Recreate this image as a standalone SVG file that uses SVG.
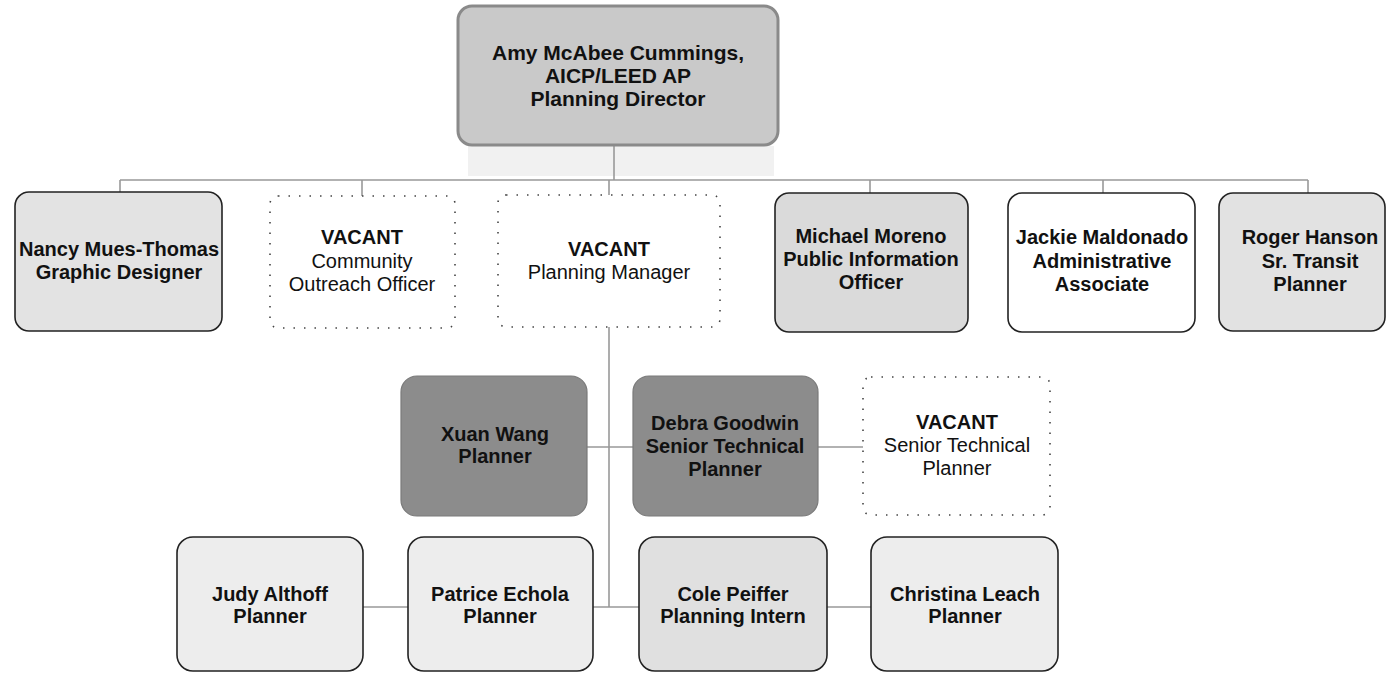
<svg xmlns="http://www.w3.org/2000/svg" width="1389" height="673" viewBox="0 0 1389 673">
<style>
.t{font-family:"Liberation Sans",Arial,sans-serif;font-size:20px;font-weight:bold;text-anchor:middle;fill:#111}
.r{font-weight:normal}
.box{stroke:#222;stroke-width:1.6}
.vac{fill:#fff;stroke:#444;stroke-width:1.6;stroke-dasharray:1.5 9}
.dark{fill:#8c8c8c;stroke:#7a7a7a;stroke-width:1.2}
.c{stroke:#999;stroke-width:1.6;fill:none}
</style>
<rect width="1389" height="673" fill="#fff"/>
<rect x="468" y="146" width="306" height="30" fill="#f1f1f1"/>
<g id="connectors">
<path class="c" d="M614 145V180M120 180H1308M120 180V192M362 180V196M609 180V195M870 180V193M1103 180V193M1308 180V193"/>
<path class="c" d="M609 327V607M587 447H633M818 447H863M363 607H408M593 607H639M827 607H871"/>
</g>
<g id="director">
<rect x="458" y="6" width="320" height="139" rx="14" fill="#c9c9c9" stroke="#8a8a8a" stroke-width="3"/>
<text class="t" x="618" y="60" style="font-size:21px">Amy McAbee Cummings,</text>
<text class="t" x="618" y="83" style="font-size:21px">AICP/LEED AP</text>
<text class="t" x="618" y="106" style="font-size:21px">Planning Director</text>
</g>
<g id="nancy">
<rect class="box" x="15" y="192" width="207" height="139" rx="14" fill="#e3e3e3"/>
<text class="t" x="119" y="256">Nancy Mues-Thomas</text>
<text class="t" x="119" y="279">Graphic Designer</text>
</g>
<g id="vacant-outreach">
<rect class="vac" x="270" y="196" width="185" height="132" rx="8"/>
<text class="t" x="362" y="244">VACANT</text>
<text class="t r" x="362" y="268">Community</text>
<text class="t r" x="362" y="291">Outreach Officer</text>
</g>
<g id="vacant-manager">
<rect class="vac" x="498" y="195" width="222" height="132" rx="8"/>
<text class="t" x="609" y="256">VACANT</text>
<text class="t r" x="609" y="279">Planning Manager</text>
</g>
<g id="michael">
<rect class="box" x="775" y="193" width="193" height="139" rx="14" fill="#dadada"/>
<text class="t" x="871" y="243">Michael Moreno</text>
<text class="t" x="871" y="266">Public Information</text>
<text class="t" x="871" y="289">Officer</text>
</g>
<g id="jackie">
<rect class="box" x="1008" y="193" width="187" height="139" rx="14" fill="#fff"/>
<text class="t" x="1102" y="244">Jackie Maldonado</text>
<text class="t" x="1102" y="268">Administrative</text>
<text class="t" x="1102" y="291">Associate</text>
</g>
<g id="roger">
<rect class="box" x="1219" y="193" width="166" height="138" rx="14" fill="#e2e2e2"/>
<text class="t" x="1310" y="244">Roger Hanson</text>
<text class="t" x="1310" y="268">Sr. Transit</text>
<text class="t" x="1310" y="291">Planner</text>
</g>
<g id="xuan">
<rect class="dark" x="401" y="376" width="186" height="140" rx="16"/>
<text class="t" x="495" y="441">Xuan Wang</text>
<text class="t" x="495" y="463">Planner</text>
</g>
<g id="debra">
<rect class="dark" x="633" y="376" width="185" height="140" rx="16"/>
<text class="t" x="725" y="430">Debra Goodwin</text>
<text class="t" x="725" y="453">Senior Technical</text>
<text class="t" x="725" y="476">Planner</text>
</g>
<g id="vacant-senior">
<rect class="vac" x="863" y="377" width="187" height="138" rx="8"/>
<text class="t" x="957" y="429">VACANT</text>
<text class="t r" x="957" y="452">Senior Technical</text>
<text class="t r" x="957" y="475">Planner</text>
</g>
<g id="judy">
<rect class="box" x="177" y="537" width="186" height="134" rx="16" fill="#ededed"/>
<text class="t" x="270" y="601">Judy Althoff</text>
<text class="t" x="270" y="623">Planner</text>
</g>
<g id="patrice">
<rect class="box" x="408" y="537" width="185" height="134" rx="16" fill="#ededed"/>
<text class="t" x="500" y="601">Patrice Echola</text>
<text class="t" x="500" y="623">Planner</text>
</g>
<g id="cole">
<rect class="box" x="639" y="537" width="188" height="134" rx="16" fill="#e0e0e0"/>
<text class="t" x="733" y="601">Cole Peiffer</text>
<text class="t" x="733" y="623">Planning Intern</text>
</g>
<g id="christina">
<rect class="box" x="871" y="537" width="187" height="134" rx="16" fill="#ededed"/>
<text class="t" x="965" y="601">Christina Leach</text>
<text class="t" x="965" y="623">Planner</text>
</g>
</svg>
